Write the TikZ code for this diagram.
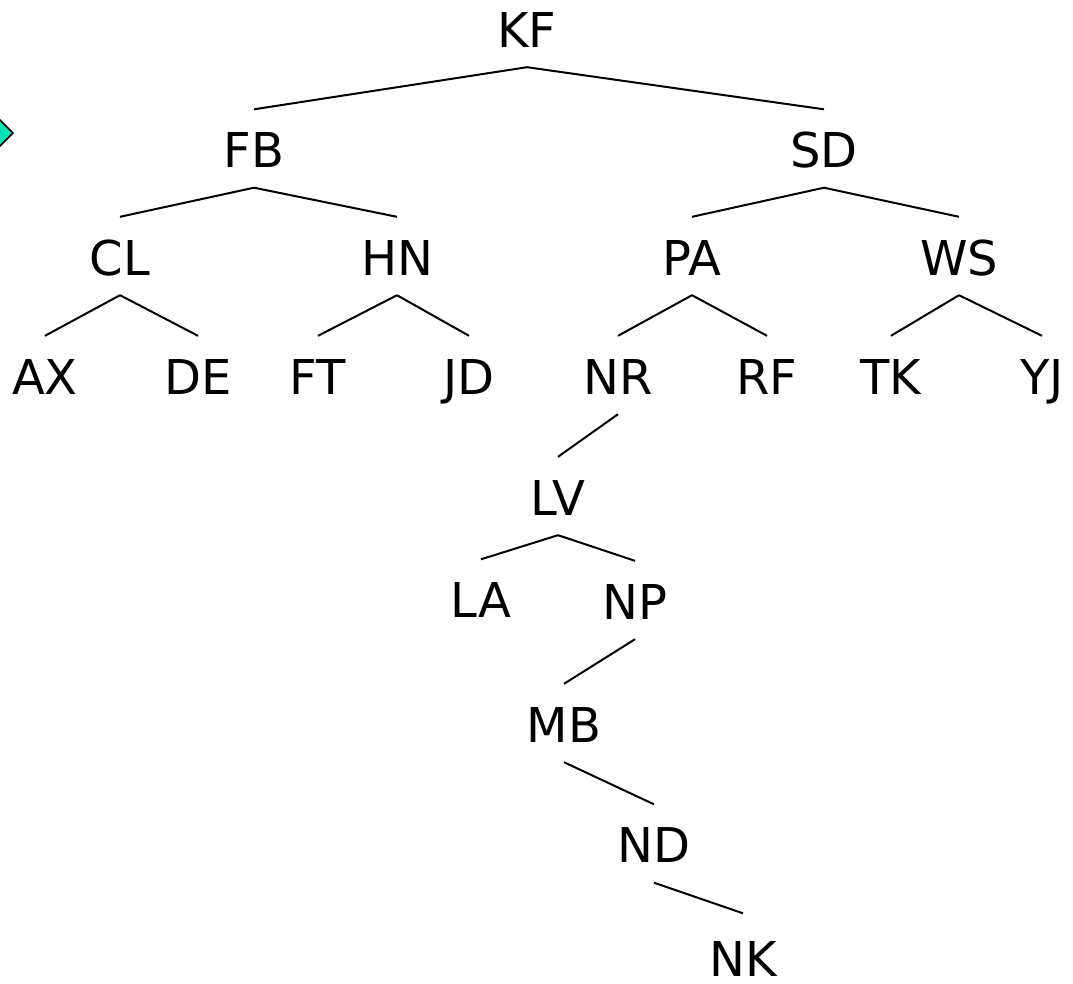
\documentclass[tikz,border=0pt]{standalone}
\usepackage{fontspec}
\setmainfont{DejaVu Sans}
\definecolor{turq}{RGB}{0,228,182}
\begin{document}
\begin{tikzpicture}[x=1pt,y=-1pt,
  lbl/.style={inner sep=0pt, text height=35pt, text depth=0pt, font=\fontsize{48}{48}\selectfont},
  edgeline/.style={line width=2pt}]
\useasboundingbox (0,0) rectangle (1073,983);
\begin{scope}
\clip (0,0) rectangle (1073,983);
\draw[fill=turq, line width=1.6pt] (-13,133) -- (0,120) -- (13,133) -- (0,146) -- cycle;
\end{scope}
\node[lbl] (KF) at (527,29.5) {KF};
\node[lbl] (FB) at (254,150) {FB};
\node[lbl] (SD) at (824,150) {SD};
\node[lbl] (CL) at (120,257.5) {CL};
\node[lbl] (HN) at (397,257.5) {HN};
\node[lbl] (PA) at (692,257.5) {PA};
\node[lbl] (WS) at (959,257.5) {WS};
\node[lbl] (AX) at (45,376.5) {AX};
\node[lbl] (DE) at (198,376.5) {DE};
\node[lbl] (FT) at (318,376.5) {FT};
\node[lbl] (JD) at (469,376.5) {JD};
\node[lbl] (NR) at (618,376.5) {NR};
\node[lbl] (RF) at (767,376.5) {RF};
\node[lbl] (TK) at (891,376.5) {TK};
\node[lbl] (YJ) at (1042,376.5) {YJ};
\node[lbl] (LV) at (558,497.5) {LV};
\node[lbl] (LA) at (481,600) {LA};
\node[lbl] (NP) at (635,601.5) {NP};
\node[lbl] (MB) at (564,724.5) {MB};
\node[lbl] (ND) at (654,845) {ND};
\node[lbl] (NK) at (743,959) {NK};
\foreach \p/\c in {KF/FB,KF/SD,FB/CL,FB/HN,SD/PA,SD/WS,CL/AX,CL/DE,HN/FT,HN/JD,PA/NR,PA/RF,WS/TK,WS/YJ,NR/LV,LV/LA,LV/NP,NP/MB,MB/ND}
  \draw[edgeline] ([yshift=-20pt]\p.south) -- ([yshift=23pt]\c.north);
\draw[edgeline] ([yshift=-20pt]ND.south) -- ([yshift=28pt]NK.north);
\end{tikzpicture}
\end{document}
